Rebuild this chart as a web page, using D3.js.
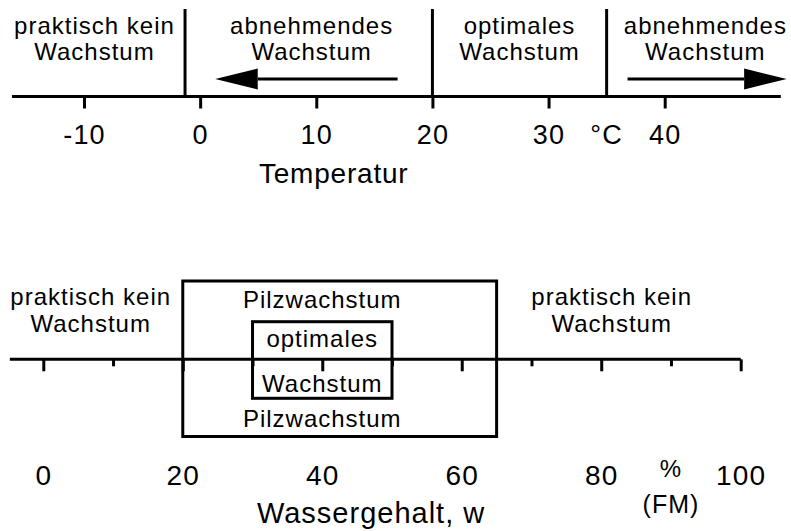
<!DOCTYPE html>
<html>
<head>
<meta charset="utf-8">
<script src="https://cdn.jsdelivr.net/npm/d3@7"></script>
<style>
  body { margin: 0; background: #fff; }
  svg text { font-family: "Liberation Sans", Arial, Helvetica, sans-serif; fill: #000; }
</style>
</head>
<body>
<div id="chart"></div>
<script>
// --- temperature (top) ---
const tempTicks = [-10, 0, 10, 20, 30, 40];
const tempExtent = [-16.2, 50];
const tempZoneBounds = [-1.3, 20, 35];
const tempZoneCenters = [-9.1, 9.6, 27.5, 43.5];
const tempZoneLabels = [
  ["praktisch kein", "Wachstum"],
  ["abnehmendes", "Wachstum"],
  ["optimales", "Wachstum"],
  ["abnehmendes", "Wachstum"]
];
const tempArrows = [[17, 1.3], [36.8, 50.5]]; // [from, to]
const tempUnit = { text: "°C", at: 35 };
const tempTitle = { text: "Temperatur", at: 11.5 };

// --- water content (bottom) ---
const waterMajor = [0, 20, 40, 60, 80, 100];
const waterMinor = [10, 30, 50, 70, 90];
const waterExtent = [-4.8, 100];
const fungusRange = [20, 65];
const optimumRange = [30, 50];
const waterSideLabels = ["praktisch kein", "Wachstum"];
const waterSideCenters = [6.8, 81.5];
const waterTitle = { text: "Wassergehalt, w", at: 47 };
const waterUnit = { lines: ["%", "(FM)"], at: 90 };

const width = 791, height = 531;

const svg = d3.select("#chart").append("svg")
  .attr("width", width)
  .attr("height", height);

const xT = d3.scaleLinear().domain([-10, 40]).range([84, 664.7]);
const xW = d3.scaleLinear().domain([0, 100]).range([43.3, 740.7]);

const yT = 96.5;   // temperature axis line
const yW = 359.3;  // water axis line

// ---------- top: temperature ----------
const gTemp = svg.append("g");

// zone dividers
gTemp.selectAll(".divider")
  .data(tempZoneBounds)
  .enter().append("line")
  .attr("x1", d => xT(d)).attr("x2", d => xT(d))
  .attr("y1", 9).attr("y2", yT)
  .attr("stroke", "#000").attr("stroke-width", 3);

// zone labels
tempZoneLabels.forEach((lines, i) => {
  const t = gTemp.append("text")
    .attr("text-anchor", "middle")
    .style("font-size", "24px")
    .style("letter-spacing", "1px");
  lines.forEach((s, j) => {
    t.append("tspan")
      .attr("x", xT(tempZoneCenters[i]))
      .attr("y", 34 + j * 26)
      .text(s);
  });
});

// arrows
const arrowY = 79;
tempArrows.forEach(([from, to]) => {
  const x0 = xT(from), x1 = xT(to);
  const dir = Math.sign(x1 - x0);
  const base = x1 - dir * 42.5;
  gTemp.append("line")
    .attr("x1", x0).attr("x2", base)
    .attr("y1", arrowY).attr("y2", arrowY)
    .attr("stroke", "#000").attr("stroke-width", 3);
  gTemp.append("path")
    .attr("d", `M${x1},${arrowY} L${base},${arrowY - 10.5} L${base},${arrowY + 10.5} Z`)
    .attr("fill", "#000");
});

// axis line
gTemp.append("line")
  .attr("x1", xT(tempExtent[0])).attr("x2", xT(tempExtent[1]))
  .attr("y1", yT).attr("y2", yT)
  .attr("stroke", "#000").attr("stroke-width", 3);

// ticks + labels
const axisT = gTemp.append("g")
  .attr("transform", `translate(0,${yT})`)
  .call(d3.axisBottom(xT).tickValues(tempTicks).tickSize(12).tickPadding(16).tickFormat(d => String(d)));
axisT.select(".domain").remove();
axisT.selectAll(".tick line").attr("stroke", "#000").attr("stroke-width", 3);
axisT.selectAll(".tick text")
  .style("font-size", "27px").style("letter-spacing", "1.2px")
  .attr("font-family", null).attr("fill", "#000");

gTemp.append("text")
  .attr("x", xT(tempUnit.at)).attr("y", 144)
  .attr("text-anchor", "middle")
  .style("font-size", "27px")
  .style("letter-spacing", "1.2px")
  .text(tempUnit.text);

gTemp.append("text")
  .attr("x", xT(tempTitle.at)).attr("y", 183.3)
  .attr("text-anchor", "middle")
  .style("font-size", "28px")
  .style("letter-spacing", "0.8px")
  .text(tempTitle.text);

// ---------- bottom: water content ----------
const gWater = svg.append("g");

// fungus growth box
gWater.append("rect")
  .attr("x", xW(fungusRange[0])).attr("width", xW(fungusRange[1]) - xW(fungusRange[0]))
  .attr("y", 281).attr("height", 155.5)
  .attr("fill", "none").attr("stroke", "#000").attr("stroke-width", 3);

// optimum box
gWater.append("rect")
  .attr("x", xW(optimumRange[0])).attr("width", xW(optimumRange[1]) - xW(optimumRange[0]))
  .attr("y", 321.7).attr("height", 76.6)
  .attr("fill", "none").attr("stroke", "#000").attr("stroke-width", 3);

const midOpt = (optimumRange[0] + optimumRange[1]) / 2;
[["Pilzwachstum", 308.3], ["optimales", 346.7], ["Wachstum", 391.7], ["Pilzwachstum", 426.7]]
  .forEach(([s, y]) => {
    gWater.append("text")
      .attr("x", xW(midOpt)).attr("y", y)
      .attr("text-anchor", "middle")
      .style("font-size", "24px")
      .style("letter-spacing", "1px")
      .text(s);
  });

// side labels
waterSideCenters.forEach(c => {
  const t = gWater.append("text")
    .attr("text-anchor", "middle")
    .style("font-size", "24px")
    .style("letter-spacing", "1px");
  waterSideLabels.forEach((s, j) => {
    t.append("tspan").attr("x", xW(c)).attr("y", 305 + j * 26.7).text(s);
  });
});

// axis line
gWater.append("line")
  .attr("x1", xW(waterExtent[0])).attr("x2", xW(waterExtent[1]))
  .attr("y1", yW).attr("y2", yW)
  .attr("stroke", "#000").attr("stroke-width", 3);

// minor ticks
const axisWm = gWater.append("g")
  .attr("transform", `translate(0,${yW})`)
  .call(d3.axisBottom(xW).tickValues(waterMinor).tickSize(7).tickFormat(""));
axisWm.select(".domain").remove();
axisWm.selectAll(".tick line").attr("stroke", "#000").attr("stroke-width", 3);

// major ticks + labels
const axisW = gWater.append("g")
  .attr("transform", `translate(0,${yW})`)
  .call(d3.axisBottom(xW).tickValues(waterMajor).tickSize(12).tickPadding(94).tickFormat(d => String(d)));
axisW.select(".domain").remove();
axisW.selectAll(".tick line").attr("stroke", "#000").attr("stroke-width", 3);
axisW.selectAll(".tick text")
  .style("font-size", "28px").style("letter-spacing", "1.2px")
  .attr("font-family", null).attr("fill", "#000");

// unit
waterUnit.lines.forEach((s, j) => {
  gWater.append("text")
    .attr("x", xW(waterUnit.at)).attr("y", j === 0 ? 477.3 : 512.7)
    .attr("text-anchor", "middle")
    .style("font-size", j === 0 ? "24px" : "25px")
    .style("letter-spacing", "1px")
    .text(s);
});

gWater.append("text")
  .attr("x", xW(waterTitle.at)).attr("y", 523.3)
  .attr("text-anchor", "middle")
  .style("font-size", "29px")
  .style("letter-spacing", "1px")
  .text(waterTitle.text);
</script>
</body>
</html>
